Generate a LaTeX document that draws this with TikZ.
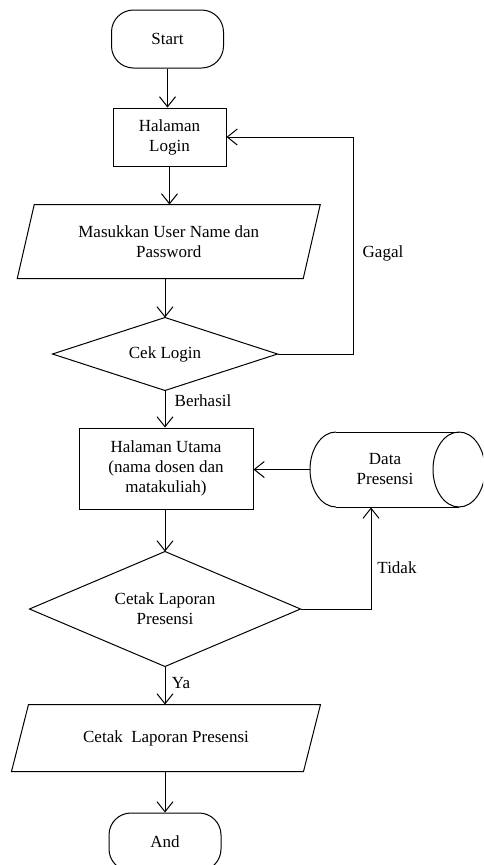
\documentclass[tikz,border=0pt]{standalone}
\usepackage{fontspec}
\setmainfont{Liberation Serif}
\usetikzlibrary{arrows.meta,calc}
\begin{document}
\begin{tikzpicture}[x=1pt,y=-1pt,
  line width=1pt,
  every node/.style={font=\fontsize{17}{20}\selectfont, align=center, inner sep=0pt},
  term/.style={draw, rounded corners=22pt, minimum width=112pt, minimum height=58pt},
  procbox/.style={draw, minimum width=113pt, minimum height=58pt},
  blank/.style={rectangle},
  arr/.style={-{Straight Barb[length=10pt,width=16pt]}}
]
\useasboundingbox (0,0) rectangle (483,865);
\clip (0,0) rectangle (483,865);

% Start
\node[term] (start) at (167.5,39) {Start};
% Halaman Login
\node[procbox] (login) at (169.5,137) {Halaman\\Login};
% Input parallelogram
\node[blank, minimum width=285pt, minimum height=73pt] (input) at (168.75,241.5) {Masukkan User Name dan\\Password};
\draw ([xshift=8.5pt]input.north west) -- ([xshift=8.5pt]input.north east)
      -- ([xshift=-8.5pt]input.south east) -- ([xshift=-8.5pt]input.south west) -- cycle;
% Cek Login diamond
\node[blank, minimum width=224pt, minimum height=72pt] (cek) at (165,354) {Cek Login};
\draw (cek.north) -- (cek.east) -- (cek.south) -- (cek.west) -- cycle;
% Halaman Utama
\node[procbox, minimum width=174pt, minimum height=81pt] (utama) at (166,468.5) {Halaman Utama\\(nama dosen dan\\matakuliah)};
% Data Presensi cylinder
\node[blank, minimum width=150pt, minimum height=75pt] (data) at (385,469.5) {Data\\Presensi};
\draw (336,432) -- (459,432) (336,507) -- (459,507);
\draw (336,432) arc[start angle=90, end angle=270, x radius=26pt, y radius=37.5pt];
\draw (459,469.5) ellipse [x radius=26pt, y radius=37.5pt];
% Cetak Laporan diamond
\node[blank, minimum width=270pt, minimum height=114pt] (cetak) at (165,609) {Cetak Laporan\\Presensi};
\draw (cetak.north) -- (cetak.east) -- (cetak.south) -- (cetak.west) -- cycle;
% Output parallelogram
\node[blank, minimum width=291pt, minimum height=66pt] (output) at (166,738) {Cetak\ \ Laporan Presensi};
\draw ([xshift=8.5pt]output.north west) -- ([xshift=8.5pt]output.north east)
      -- ([xshift=-8.5pt]output.south east) -- ([xshift=-8.5pt]output.south west) -- cycle;
% End
\node[term] (endn) at (165,842) {And};

% helper coordinates
\coordinate (gg) at (353,0);
\coordinate (tt) at (371,0);

% connectors
\draw[arr] (start.south) -- (start.south |- login.north);
\draw[arr] (login.south) -- (login.south |- input.north);
\draw[arr] (cek.north |- input.south) -- (cek.north);
\draw[arr] (cek.east) -- (cek.east -| gg) -- (gg |- login.east) -- (login.east);
\draw[arr] (cek.south) -- (cek.south |- utama.north);
\draw[arr] (data.west) -- (data.west -| utama.east);
\draw[arr] (cetak.north |- utama.south) -- (cetak.north);
\draw[arr] (cetak.east) -- (cetak.east -| tt) -- (tt |- data.south);
\draw[arr] (cetak.south) -- (cetak.south |- output.north);
\draw[arr] (endn.north |- output.south) -- (endn.north);

% labels
\node (lgagal) at (383,253) {Gagal};
\node (lberhasil) at (203,401) {Berhasil};
\node (ltidak) at (397,568) {Tidak};
\node (lya) at (181,683) {Ya};
\end{tikzpicture}
\end{document}
